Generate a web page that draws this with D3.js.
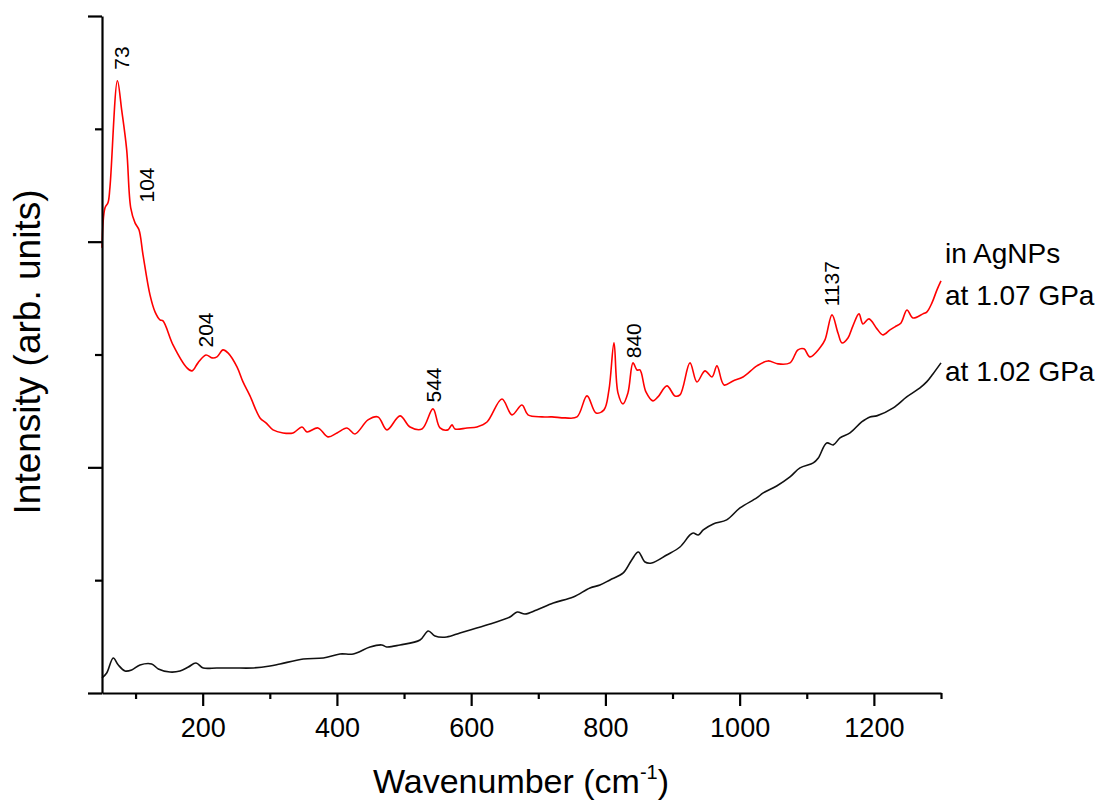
<!DOCTYPE html>
<html>
<head>
<meta charset="utf-8">
<script src="https://cdn.jsdelivr.net/npm/d3@7"></script>
<style>
  body { margin: 0; background: #fff; }
  svg { display: block; font-family: "Liberation Sans", Arial, sans-serif; }
</style>
</head>
<body>
<svg id="chart" width="1102" height="804"></svg>
<script>
/* Raman spectra: [wavenumber cm-1, intensity arb.] */

// red trace, 1.07 GPa in AgNPs
var spectrumAgNPs = [
  [50, 3.945], [54.5, 4.300], [58.9, 4.344], [61.9, 4.486], [73, 5.426],
  [79.3, 5.168], [86.8, 4.814], [92.8, 4.300], [99.2, 4.167], [105.1, 4.105],
  [111.1, 3.883], [121.5, 3.528], [129.0, 3.378], [136.4, 3.307], [140.9, 3.298],
  [155.8, 3.085], [176.6, 2.881], [184.1, 2.855], [193.0, 2.926], [204.9, 2.996],
  [213.9, 2.970], [221.3, 2.979], [230.3, 3.041], [237.7, 3.014], [251.1, 2.890],
  [260.1, 2.757], [270.5, 2.633], [285.4, 2.438], [294.3, 2.394], [304.8, 2.332],
  [319.7, 2.305], [334.6, 2.305], [348.0, 2.358], [355.4, 2.314], [371.8, 2.349],
  [386.7, 2.270], [400.1, 2.305], [415.0, 2.349], [426.9, 2.296], [446.3, 2.420],
  [461.2, 2.447], [474.6, 2.332], [494.0, 2.456], [508.9, 2.358], [526.7, 2.340],
  [543.1, 2.518], [553.6, 2.349], [565.5, 2.332], [571.4, 2.376], [575.9, 2.340],
  [593.8, 2.349], [608.7, 2.358], [623.6, 2.402], [645.9, 2.606], [660.8, 2.465],
  [675.7, 2.553], [684.7, 2.465], [705.5, 2.447], [720.4, 2.447], [739.8, 2.438],
  [757.7, 2.447], [772.6, 2.633], [786.0, 2.482], [797.9, 2.509], [805.3, 2.686],
  [812.8, 3.103], [818.7, 2.660], [826.2, 2.562], [833.6, 2.660], [841.1, 2.926],
  [847.0, 2.863], [851.5, 2.863], [860.4, 2.668], [870.8, 2.589], [878.3, 2.624],
  [891.7, 2.722], [903.6, 2.633], [911.1, 2.642], [926.0, 2.926], [936.4, 2.757],
  [948.3, 2.855], [958.8, 2.801], [966.2, 2.899], [976.7, 2.730], [990.1, 2.766],
  [1005.0, 2.801], [1025.8, 2.899], [1042.2, 2.943], [1057.1, 2.917], [1075.0, 2.926],
  [1086.9, 3.041], [1095.8, 3.050], [1104.8, 2.979], [1119.7, 3.059], [1127.1, 3.129],
  [1137.6, 3.351], [1146.5, 3.191], [1152.5, 3.103], [1161.4, 3.147], [1168.8, 3.254],
  [1177.8, 3.360], [1183.7, 3.271], [1192.7, 3.316], [1204.6, 3.227], [1213.5, 3.174],
  [1224.0, 3.218], [1231.4, 3.245], [1240.4, 3.280], [1249.3, 3.395], [1258.2, 3.324],
  [1273.1, 3.360], [1279.1, 3.378], [1286.5, 3.457], [1294.0, 3.573], [1300, 3.652]
];

// black trace, 1.02 GPa
var spectrumBulk = [
  [50, 0.133], [57.0, 0.177], [66.8, 0.310], [74.3, 0.248], [84.3, 0.195],
  [94.2, 0.204], [106.6, 0.248], [124.0, 0.257], [133.9, 0.213], [151.3, 0.186],
  [166.2, 0.195], [178.6, 0.230], [190.0, 0.266], [200.9, 0.222], [220.9, 0.222],
  [245.6, 0.222], [275.4, 0.222], [300.3, 0.239], [315.2, 0.257], [349.9, 0.301],
  [379.7, 0.310], [404.6, 0.346], [424.4, 0.346], [449.3, 0.408], [466.7, 0.426],
  [474.1, 0.408], [494.0, 0.426], [523.8, 0.470], [536.1, 0.550], [546.1, 0.505],
  [563.5, 0.496], [583.3, 0.532], [608.2, 0.576], [633.0, 0.621], [657.8, 0.674],
  [668.7, 0.718], [680.2, 0.700], [697.6, 0.736], [722.4, 0.798], [752.2, 0.851],
  [777.0, 0.931], [791.9, 0.957], [806.8, 1.002], [826.6, 1.064], [839.2, 1.179],
  [849.0, 1.250], [859.0, 1.161], [868.9, 1.152], [891.3, 1.223], [911.1, 1.294],
  [926.0, 1.401], [930.9, 1.418], [938.4, 1.401], [945.8, 1.445], [960.7, 1.498],
  [980.7, 1.534], [1000.5, 1.640], [1025.4, 1.729], [1035.2, 1.773], [1055.2, 1.835],
  [1075.0, 1.915], [1089.9, 1.995], [1109.7, 2.039], [1117.2, 2.083], [1129.7, 2.216],
  [1139.5, 2.199], [1149.5, 2.261], [1164.4, 2.305], [1181.8, 2.402], [1194.2, 2.447],
  [1204.2, 2.456], [1228.9, 2.527], [1248.9, 2.624], [1268.7, 2.704], [1278.6, 2.757],
  [1288.0, 2.828], [1300, 2.926]
];

var peakLabels = ["73", "104", "204", "544", "840", "1137"];
var seriesNames = ["at 1.07 GPa", "at 1.02 GPa"];
var sampleNote = "in AgNPs";

var xMajorTicks = [200, 400, 600, 800, 1000, 1200];
var xMinorTicks = [100, 300, 500, 700, 900, 1100, 1300];
var yMajorTicks = [0, 2, 4, 6];
var yMinorTicks = [1, 3, 5];

var xTitle = "Wavenumber (cm";
var yTitle = "Intensity (arb. units)";

/* layout */
var svg = d3.select("#chart");
var x = d3.scaleLinear().domain([50, 1300]).range([102, 941]);
var y = d3.scaleLinear().domain([0, 6]).range([693, 16]);

// nudges for individual peak labels (px)
var labelNudge = { "73": [4, -11], "104": [8, -26], "204": [0, -8], "544": [0, -8], "840": [1, -9], "1137": [0, -10] };

function valueAt(series, wn) {
  var i = d3.bisector(d => d[0]).left(series, wn);
  if (i <= 0) return series[0][1];
  if (i >= series.length) return series[series.length - 1][1];
  var a = series[i - 1], b = series[i];
  var t = (wn - a[0]) / (b[0] - a[0]);
  return a[1] + t * (b[1] - a[1]);
}

var line = d3.line()
  .x(d => x(d[0]))
  .y(d => y(d[1]))
  .curve(d3.curveCatmullRom.alpha(0.5));

svg.append("path")
  .datum(spectrumBulk)
  .attr("d", line)
  .attr("fill", "none")
  .attr("stroke", "#111")
  .attr("stroke-width", 1.6)
  .attr("stroke-linejoin", "round");

svg.append("path")
  .datum(spectrumAgNPs)
  .attr("d", line)
  .attr("fill", "none")
  .attr("stroke", "#ff0000")
  .attr("stroke-width", 1.6)
  .attr("stroke-linejoin", "round");

// axes
function styleAxis(g) {
  g.selectAll("path, line").attr("stroke", "#000").attr("stroke-width", 2.2);
  g.selectAll("text").attr("fill", "#000").style("font-size", "27px")
    .style("font-family", "'Liberation Sans', Arial, sans-serif");
}

svg.append("g")
  .attr("transform", "translate(0,693)")
  .call(d3.axisBottom(x).tickValues(xMinorTicks).tickSize(6).tickSizeOuter(0).tickFormat(""))
  .call(styleAxis);

svg.append("g")
  .attr("transform", "translate(0,693)")
  .call(d3.axisBottom(x).tickValues(xMajorTicks).tickSize(13).tickSizeOuter(0).tickPadding(12).tickFormat(d3.format("d")))
  .call(styleAxis)
  .call(g => g.select(".domain").remove());

svg.append("g")
  .attr("transform", "translate(102,0)")
  .call(d3.axisLeft(y).tickValues(yMinorTicks).tickSize(7).tickSizeOuter(0).tickFormat(""))
  .call(styleAxis);

svg.append("g")
  .attr("transform", "translate(102,0)")
  .call(d3.axisLeft(y).tickValues(yMajorTicks).tickSize(14).tickSizeOuter(0).tickFormat(""))
  .call(styleAxis)
  .call(g => g.select(".domain").remove());

// axis titles
var xt = svg.append("text")
  .attr("x", 521).attr("y", 793)
  .attr("text-anchor", "middle")
  .style("font-size", "34px");
xt.append("tspan").text(xTitle);
xt.append("tspan").text("-1").attr("dy", -14).style("font-size", "20px");
xt.append("tspan").text(")").attr("dy", 14);

svg.append("text")
  .attr("transform", "translate(40,352) rotate(-90)")
  .attr("text-anchor", "middle")
  .style("font-size", "37px")
  .text(yTitle);

// peak labels, rotated
svg.selectAll("text.peak")
  .data(peakLabels)
  .join("text")
  .attr("class", "peak")
  .attr("text-anchor", "start")
  .style("font-size", "21px")
  .attr("transform", d => {
    var wn = +d, n = labelNudge[d];
    var px = x(wn) + n[0] + 7.5;
    var py = y(valueAt(spectrumAgNPs, wn)) + n[1];
    return "translate(" + px + "," + py + ") rotate(-90)";
  })
  .text(d => d);

// series labels at the right end of each trace
var redEnd = spectrumAgNPs[spectrumAgNPs.length - 1];
var blackEnd = spectrumBulk[spectrumBulk.length - 1];

svg.append("text")
  .attr("x", x(redEnd[0]) + 4).attr("y", y(redEnd[1]) - 18)
  .style("font-size", "28px")
  .text(sampleNote);
svg.append("text")
  .attr("x", x(redEnd[0]) + 4).attr("y", y(redEnd[1]) + 24)
  .style("font-size", "28px")
  .text(seriesNames[0]);
svg.append("text")
  .attr("x", x(blackEnd[0]) + 4).attr("y", y(blackEnd[1]) + 18)
  .style("font-size", "28px")
  .text(seriesNames[1]);
</script>
</body>
</html>
